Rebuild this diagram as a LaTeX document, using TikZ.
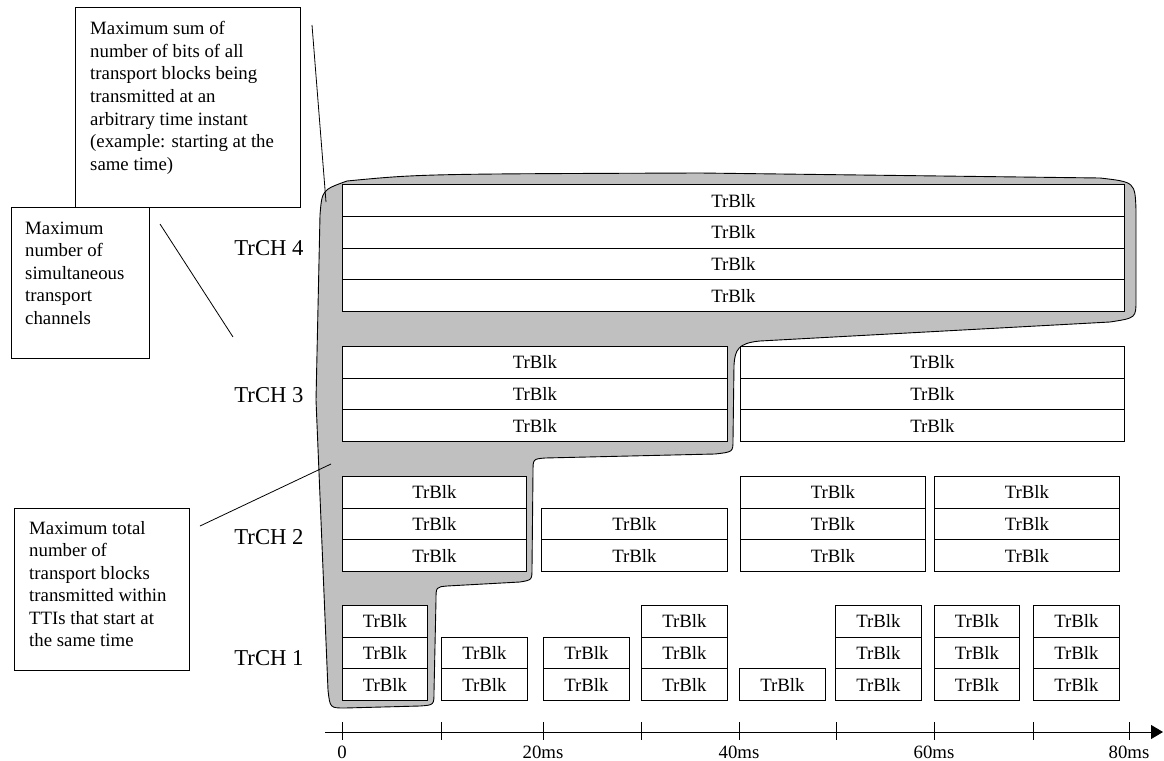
\documentclass[tikz,border=0pt]{standalone}
\usepackage{fontspec}
\setmainfont{Liberation Serif}
\usetikzlibrary{arrows.meta}
\newcommand\blkfont{\fontsize{18.8}{22.5}\selectfont}
\newcommand\chfont{\fontsize{22.7}{26}\selectfont}
\definecolor{shade}{RGB}{192,192,192}
\tikzset{
  blk/.style={draw, fill=white, line width=0.9pt, inner sep=0pt, anchor=south west, font=\blkfont, minimum height=31.7pt},
  callbox/.style={draw, line width=0.8pt, inner sep=0pt, anchor=north west},
  calltext/.style={inner sep=0pt, anchor=base west, font=\blkfont},
  chlabel/.style={font=\chfont, inner sep=0pt},
  ticklabel/.style={font=\blkfont, inner sep=0pt},
  leader/.style={line width=0.8pt},
}
\begin{document}
\begin{tikzpicture}[x=1pt,y=-1pt]
\useasboundingbox (0,0) rectangle (1164,760);
% gray region
\draw[fill=shade, line width=0.9pt] (347,181) .. controls (420,174) .. (700,173) -- (1100,178)
  .. controls (1135,182) .. (1136,210) -- (1136,300) .. controls (1136,318) .. (1110,322)
  -- (760,341) .. controls (738,343) and (735,350) .. (734,365) -- (733,440)
  .. controls (733,452) .. (715,454) -- (545,458) .. controls (533,459) .. (533,472)
  -- (532,568) .. controls (532,580) .. (520,582) -- (447,586) .. controls (436,587) .. (436,600)
  -- (434,692) .. controls (434,705) .. (420,706) -- (345,708) .. controls (330,708) .. (328,690)
  -- (316,400) -- (320,215) .. controls (322,190) .. (347,181) -- cycle;
% transport blocks
\foreach \x/\b/\w/\n/\nm in {342/312/782/4/ch4a,
  342/442/385/3/ch3a, 740/442/384/3/ch3b,
  342/572/184/3/ch2a, 541/572/186/2/ch2b, 740/572/185/3/ch2c, 934/572/185/3/ch2d,
  342/701/85/3/ch1a, 441/701/86/2/ch1b, 543/701/86/2/ch1c, 641/701/86/3/ch1d,
  739/701/86/1/ch1e, 835/701/86/3/ch1f, 934/701/85/3/ch1g, 1033/701/86/3/ch1h} {
  \foreach \r in {1,...,\n} {
    \node[blk, minimum width=\w pt] (\nm-\r) at (\x, {\b-(\r-1)*31.7}) {TrBlk};
  }
}
% channel labels
\node[chlabel] (l4) at (269,248) {TrCH 4};
\node[chlabel] (l3) at (269,395) {TrCH 3};
\node[chlabel] (l2) at (269,537) {TrCH 2};
\node[chlabel] (l1) at (269,658) {TrCH 1};
% axis
\coordinate (ax0) at (325,732);
\coordinate (ax1) at (1163,732);
\draw[line width=0.9pt, -{Triangle[length=12pt,width=14pt]}] (ax0) -- (ax1);
\foreach \t in {342,441,543,641,739,836,934,1033,1129} {
  \draw[line width=0.9pt] (\t,722) -- (\t,740);
}
\node[ticklabel] (t0) at (342,752) {0};
\node[ticklabel] (t20) at (543,752) {20ms};
\node[ticklabel] (t40) at (739,752) {40ms};
\node[ticklabel] (t60) at (934,752) {60ms};
\node[ticklabel] (t80) at (1129,752) {80ms};
% callout boxes
\node[callbox, minimum width=225pt, minimum height=200pt] (box1) at (75,7) {};
\node[calltext] (txt1) at (90,35) {\parbox[t]{220pt}{\raggedright Maximum sum of\\ number of bits of all\\ transport blocks being\\ transmitted at an\\ arbitrary time instant\\ (example: starting at the\\ same time)}};
\node[callbox, minimum width=138pt, minimum height=151pt] (box2) at (11,207) {};
\node[calltext] (txt2) at (25,234) {\parbox[t]{130pt}{\raggedright Maximum\\ number of\\ simultaneous\\ transport\\ channels}};
\node[callbox, minimum width=175pt, minimum height=162pt] (box3) at (14,508) {};
\node[calltext] (txt3) at (29,534) {\parbox[t]{170pt}{\raggedright Maximum total\\ number of\\ transport blocks\\ transmitted within\\ TTIs that start at\\ the same time}};
% leader lines
\coordinate (p1a) at (312,25);
\coordinate (p1b) at (326,202);
\coordinate (p2a) at (160,224);
\coordinate (p2b) at (233,337);
\coordinate (p3a) at (200,526);
\coordinate (p3b) at (331,464);
\draw[leader] (p1a) -- (p1b);
\draw[leader] (p2a) -- (p2b);
\draw[leader] (p3a) -- (p3b);
\end{tikzpicture}
\end{document}
